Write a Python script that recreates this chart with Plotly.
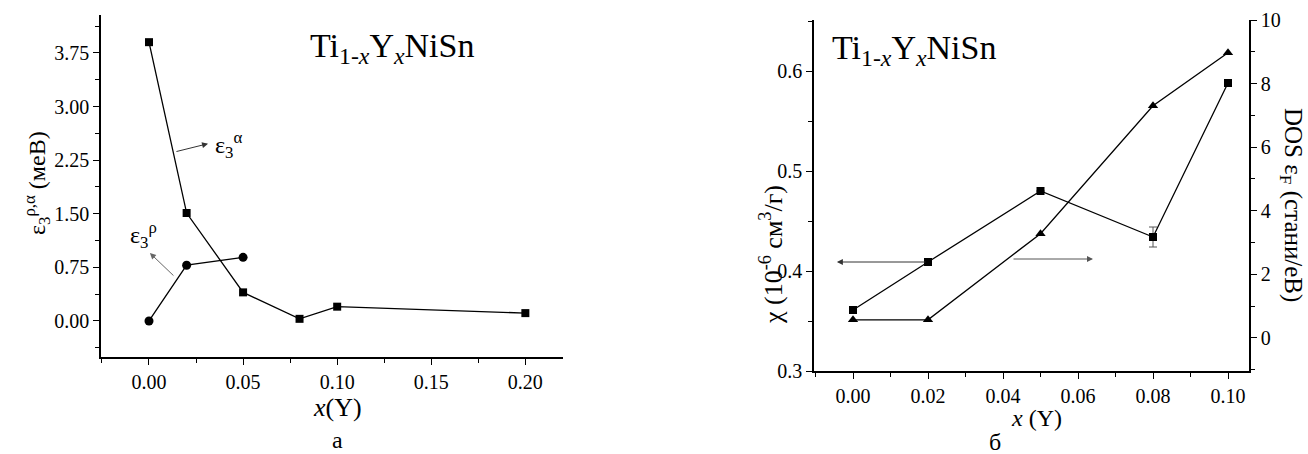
import plotly.graph_objects as go

# ---- data: panel a ----
xa_sq = [0.0, 0.02, 0.05, 0.08, 0.10, 0.20]
eps_alpha = [3.90, 1.51, 0.40, 0.03, 0.20, 0.11]
xa_ci = [0.0, 0.02, 0.05]
eps_rho = [0.0, 0.78, 0.89]

# ---- data: panel b ----
xb = [0.0, 0.02, 0.05, 0.08, 0.10]
chi = [0.361, 0.409, 0.480, 0.434, 0.588]
chi_err = [0, 0, 0, 0.010, 0]
dos = [0.57, 0.57, 3.28, 7.30, 8.97]

FONT = "Liberation Serif, Times New Roman, serif"
BLACK = "#000000"

fig = go.Figure()
fig.update_layout(template="none")

fig.add_trace(go.Scatter(x=xa_sq, y=eps_alpha, mode="lines+markers", xaxis="x", yaxis="y",
                         line=dict(color=BLACK, width=1.3),
                         marker=dict(symbol="square", size=8, color=BLACK), showlegend=False))
fig.add_trace(go.Scatter(x=xa_ci, y=eps_rho, mode="lines+markers", xaxis="x", yaxis="y",
                         line=dict(color=BLACK, width=1.3),
                         marker=dict(symbol="circle", size=9, color=BLACK), showlegend=False))
fig.add_trace(go.Scatter(x=xb, y=chi, mode="lines+markers", xaxis="x2", yaxis="y2",
                         line=dict(color=BLACK, width=1.3),
                         error_y=dict(type="data", array=chi_err, color="#555555", thickness=1, width=4),
                         marker=dict(symbol="square", size=8, color=BLACK), showlegend=False))
fig.add_trace(go.Scatter(x=xb, y=dos, mode="lines+markers", xaxis="x2", yaxis="y3",
                         line=dict(color=BLACK, width=1.3),
                         marker=dict(symbol="triangle-up", size=9, color=BLACK), showlegend=False))

W, H = 1308, 454
def px(v): return v / W
def py(v): return 1 - v / H

axis_common = dict(showline=True, linecolor=BLACK, linewidth=1.6, ticks="outside",
                   ticklen=6, tickwidth=1.3, tickcolor=BLACK, showgrid=False, zeroline=False,
                   automargin=False,
                   tickfont=dict(family=FONT, size=20, color=BLACK), mirror=False)

fig.update_layout(
    width=W, height=H, margin=dict(l=0, r=0, t=0, b=0, autoexpand=False),
    paper_bgcolor="white", plot_bgcolor="white",
    font=dict(family=FONT, color=BLACK),
    xaxis=dict(domain=[px(101), px(563)], range=[-0.0255, 0.22], anchor="y",
               tickmode="linear", tick0=0, dtick=0.05, tickformat=".2f",
               minor=dict(ticks="outside", ticklen=4, dtick=0.025, tick0=0, tickcolor=BLACK),
               **axis_common),
    yaxis=dict(domain=[py(357), py(15)], range=[-0.504, 4.28], anchor="x",
               tickmode="linear", tick0=0, dtick=0.75, tickformat=".2f",
               minor=dict(ticks="outside", ticklen=4, dtick=0.375, tick0=0, tickcolor=BLACK),
               **axis_common),
    xaxis2=dict(domain=[px(814), px(1249)], range=[-0.0104, 0.1056], anchor="y2",
                tickmode="linear", tick0=0, dtick=0.02, tickformat=".2f",
                minor=dict(ticks="outside", ticklen=4, dtick=0.01, tick0=0, tickcolor=BLACK),
                **axis_common),
    yaxis2=dict(domain=[py(371), py(20)], range=[0.3, 0.651], anchor="x2",
                tickmode="linear", tick0=0.3, dtick=0.1, tickformat=".1f",
                minor=dict(ticks="outside", ticklen=4, dtick=0.05, tick0=0.3, tickcolor=BLACK),
                **axis_common),
    yaxis3=dict(range=[-1.04, 10.0], overlaying="y2", side="right", anchor="x2",
                tickmode="linear", tick0=0, dtick=2,
                minor=dict(ticks="outside", ticklen=4, dtick=1, tick0=0, tickcolor=BLACK),
                **axis_common),
)

ann = []
def txt(x, y, text, size, angle=0, xanchor="center", yanchor="middle"):
    ann.append(dict(xref="paper", yref="paper", x=px(x), y=py(y), text=text, showarrow=False,
                    textangle=angle, xanchor=xanchor, yanchor=yanchor,
                    font=dict(family=FONT, size=size, color=BLACK)))

# titles
txt(392, 48, "Ti<sub>1-<i>x</i></sub>Y<sub><i>x</i></sub>NiSn", 34)
txt(914, 50, "Ti<sub>1-<i>x</i></sub>Y<sub><i>x</i></sub>NiSn", 34)
# axis titles
txt(37, 183, "ε<sub>3</sub><sup>ρ,α</sup> (меВ)", 24, angle=-90)
txt(337, 407, "<i>x</i>(Y)", 26)
txt(337, 440, "а", 24)
txt(771, 255, "χ (10<sup>-6</sup> см<sup>3</sup>/г)", 26, angle=-90)
txt(1292, 205, "DOS ε<sub>F</sub> (стани/еВ)", 25, angle=90)
txt(1036, 418, "<i>x</i> (Y)", 24)
txt(995, 442, "б", 24)
# series labels
txt(229, 145, "ε<sub>3</sub><sup>α</sup>", 24)
txt(143, 235, "ε<sub>3</sub><sup>ρ</sup>", 24)

# arrows
def arrow(xr, yr, x_tail, y_tail, x_head, y_head, color="#333333"):
    ann.append(dict(xref=xr, yref=yr, axref=xr, ayref=yr, x=x_head, y=y_head, ax=x_tail, ay=y_tail,
                    text="", showarrow=True, arrowhead=2, arrowsize=1.2, arrowwidth=1, arrowcolor=color))

arrow("x", "y", 0.0138, 2.365, 0.0314, 2.48)
arrow("x", "y", 0.0138, 0.615, 0.0005, 0.95, color="#666666")
arrow("x2", "y2", 0.0197, 0.409, -0.0043, 0.409)
arrow("x2", "y2", 0.0424, 0.412, 0.064, 0.412, color="#555555")

fig.update_layout(annotations=ann)
fig.write_html("out.html")
